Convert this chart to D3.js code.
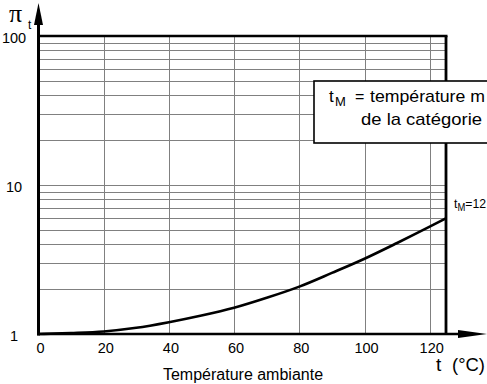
<!DOCTYPE html>
<html><head><meta charset="utf-8">
<script src="https://cdn.jsdelivr.net/npm/d3@7"></script>
<style>
html,body{margin:0;padding:0;background:#fff;}
svg{display:block;font-family:"Liberation Sans",Arial,Helvetica,sans-serif;}
</style></head>
<body>
<svg id="c" width="487" height="384"></svg>
<script>
// Data
const temps = [0, 10, 20, 30, 40, 50, 60, 70, 80, 90, 100, 110, 120, 125];
const piT   = [1.0, 1.015, 1.04, 1.1, 1.2, 1.33, 1.5, 1.75, 2.08, 2.57, 3.2, 4.08, 5.25, 5.98];
const xTicks = [0, 20, 40, 60, 80, 100, 120];
const xGrid = [20, 40, 60, 80, 100, 120];
const yLabels = [1, 10, 100];
const yGrid = [2,3,4,5,6,7,8,9,10,20,30,40,50,60,70,80,90];
const tMax = 125;

const svg = d3.select("#c");
const x = d3.scaleLinear().domain([0, 125]).range([38.5, 446]);
const y = d3.scaleLog().domain([1, 100]).range([334, 36]);

// grid
svg.append("g").selectAll("line").data(yGrid).join("line")
  .attr("x1", x(0)).attr("x2", x(tMax))
  .attr("y1", d => Math.round(y(d)) + 0.5).attr("y2", d => Math.round(y(d)) + 0.5)
  .attr("stroke", "#808080").attr("stroke-width", 1);
svg.append("g").selectAll("line").data(xGrid).join("line")
  .attr("x1", d => Math.round(x(d)) + 0.5).attr("x2", d => Math.round(x(d)) + 0.5)
  .attr("y1", y(100)).attr("y2", y(1))
  .attr("stroke", "#808080").attr("stroke-width", 1);

// borders
svg.append("line").attr("x1", x(0)).attr("x2", x(tMax) + 1.5)
  .attr("y1", y(100)).attr("y2", y(100)).attr("stroke", "#000").attr("stroke-width", 2.6);
svg.append("line").attr("x1", x(tMax)).attr("x2", x(tMax))
  .attr("y1", y(100)).attr("y2", y(1)).attr("stroke", "#000").attr("stroke-width", 2.8);

// curve
const line = d3.line().x((d, i) => x(temps[i])).y(d => y(d)).curve(d3.curveMonotoneX);
svg.append("path").attr("d", line(piT)).attr("fill", "none")
  .attr("stroke", "#000").attr("stroke-width", 2.6);

// axes
svg.append("line").attr("x1", x(0)).attr("x2", x(0))
  .attr("y1", y(1) + 1.5).attr("y2", 20).attr("stroke", "#000").attr("stroke-width", 3);
svg.append("path").attr("d", `M${x(0)},3 L${x(0)-4.5},25 L${x(0)+4.5},25 Z`).attr("fill", "#000");
svg.append("line").attr("x1", x(0) - 1.5).attr("x2", 462)
  .attr("y1", y(1)).attr("y2", y(1)).attr("stroke", "#000").attr("stroke-width", 2.6);
svg.append("path").attr("d", `M458,${y(1)-4} L487,${y(1)} L458,${y(1)+4} Z`).attr("fill", "#000");

// tick labels
svg.append("g").selectAll("text").data(xTicks).join("text")
  .attr("x", d => x(d) + 2).attr("y", 353)
  .attr("text-anchor", "middle").attr("font-size", 14.5).text(d => d);
svg.append("g").selectAll("text").data(yLabels).join("text")
  .attr("x", 14).attr("y", d => y(d) + 6.5)
  .attr("text-anchor", "middle").attr("font-size", 14.5).text(d => d);

// axis titles
svg.append("text").attr("x", 243).attr("y", 380).attr("text-anchor", "middle")
  .attr("font-size", 16).text("Température ambiante");
svg.append("text").attr("x", 436).attr("y", 371).attr("font-size", 19)
  .text("t");
svg.append("text").attr("x", 452).attr("y", 371).attr("font-size", 19)
  .attr("textLength", 33).attr("lengthAdjust", "spacingAndGlyphs")
  .text("(°C)");
svg.append("text").attr("x", 9).attr("y", 22).attr("font-size", 26)
  .attr("font-family", "Liberation Serif, serif").text("π");
svg.append("text").attr("x", 28).attr("y", 29).attr("font-size", 12).text("t");

// t_M label at curve end
const tl = svg.append("text").attr("x", 454).attr("y", y(piT[piT.length-1]) - 10).attr("font-size", 13)
  .attr("textLength", 32).attr("lengthAdjust", "spacingAndGlyphs");
tl.append("tspan").text("t");
tl.append("tspan").attr("font-size", 10).attr("dy", 3).text("M");
tl.append("tspan").attr("dy", -3).text("=12");

// box
svg.append("rect").attr("x", 314).attr("y", 81).attr("width", 200).attr("height", 62)
  .attr("fill", "#fff").attr("stroke", "#000").attr("stroke-width", 1.6);
svg.append("text").attr("x", 329).attr("y", 102).attr("font-size", 17).text("t");
svg.append("text").attr("x", 335).attr("y", 106).attr("font-size", 13).text("M");
svg.append("text").attr("x", 355).attr("y", 102).attr("font-size", 16).text("=");
svg.append("text").attr("x", 370).attr("y", 102).attr("font-size", 17)
  .attr("textLength", 115).attr("lengthAdjust", "spacingAndGlyphs")
  .text("température m");
svg.append("text").attr("x", 361).attr("y", 125).attr("font-size", 17)
  .attr("textLength", 121).attr("lengthAdjust", "spacingAndGlyphs")
  .text("de la catégorie");
</script>
</body></html>
